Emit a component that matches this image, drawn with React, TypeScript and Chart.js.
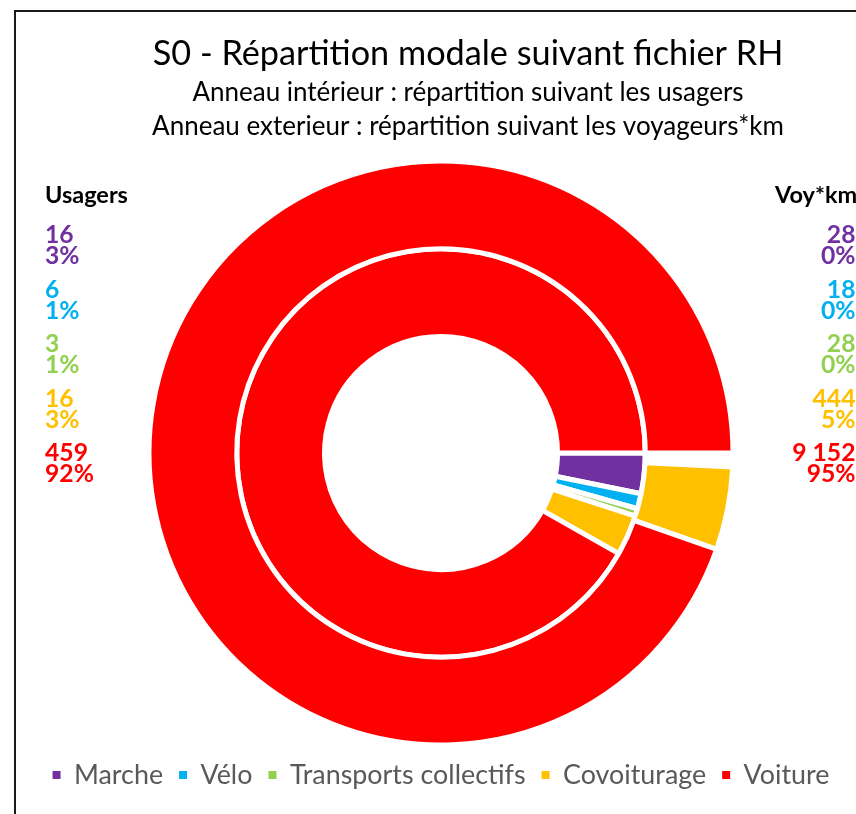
import React, { useEffect, useRef } from "react";
import { Chart, registerables } from "chart.js";

Chart.register(...registerables);

// ---------- data ----------
const categories = ["Marche", "Vélo", "Transports collectifs", "Covoiturage", "Voiture"];
const usagers = [16, 6, 3, 16, 459];
const voyKm = [28, 18, 28, 444, 9152];
const colors = ["#7030A0", "#00B0F0", "#92D050", "#FFC000", "#FF0000"];
const titleText = "S0 - Répartition modale suivant fichier RH";
const subtitleLines = [
  "Anneau intérieur : répartition suivant les usagers",
  "Anneau exterieur : répartition suivant les voyageurs*km",
];
const leftHeader = "Usagers";
const rightHeader = "Voy*km";

// ---------- helpers ----------
const FONT = "Lato, 'Noto Sans', sans-serif";

function measure(text: string, weight: string) {
  const c = document.createElement("canvas").getContext("2d")!;
  c.font = `${weight} 100px ${FONT}`;
  return c.measureText(text).width / 100;
}
function fitSize(text: string, target: number, weight = "normal") {
  return target / measure(text, weight);
}
const fmt = (v: number) => String(v).replace(/\B(?=(\d{3})+(?!\d))/g, " ");
const pct = (v: number, arr: number[]) =>
  Math.round((v / arr.reduce((a, b) => a + b, 0)) * 100) + "%";

export default function App() {
  const ref = useRef<HTMLCanvasElement | null>(null);

  useEffect(() => {
    const titleSize = fitSize(titleText, 631);
    const subSize =
      (fitSize(subtitleLines[0], 548) + fitSize(subtitleLines[1], 636)) / 2;
    const hdrSize = fitSize(leftHeader, 83, "bold");
    const valSize = (fitSize("459", 42, "bold") + fitSize("92%", 50, "bold")) / 2;
    const legendTextTotal = categories.reduce((s, c) => s + measure(c, "normal"), 0);
    const legendSize = 606 / legendTextTotal;

    const legendPad = 16;
    const legendTop = 759 - legendSize / 2;
    const padBottom = 814 - (legendTop + legendSize + legendPad + 10);
    const padTop = 2 * 453 - legendTop;

    const textPlugin = {
      id: "sideText",
      afterDraw(chart: any) {
        const ctx = chart.ctx as CanvasRenderingContext2D;
        ctx.save();
        // frame
        ctx.strokeStyle = "#1a1a1a";
        ctx.lineWidth = 2;
        ctx.beginPath();
        ctx.moveTo(15, 814);
        ctx.lineTo(15, 11);
        ctx.lineTo(856, 11);
        ctx.stroke();

        // titles
        ctx.fillStyle = "#000";
        ctx.textAlign = "center";
        ctx.textBaseline = "alphabetic";
        ctx.font = `normal ${titleSize}px ${FONT}`;
        ctx.fillText(titleText, 468, 65);
        ctx.font = `normal ${subSize}px ${FONT}`;
        ctx.fillText(subtitleLines[0], 468, 101);
        ctx.fillText(subtitleLines[1], 468, 135);

        // column headers
        ctx.font = `bold ${hdrSize}px ${FONT}`;
        ctx.textAlign = "left";
        ctx.fillText(leftHeader, 45, 203);
        ctx.fillText(rightHeader, 775, 203);

        // values
        ctx.font = `bold ${valSize}px ${FONT}`;
        for (let i = 0; i < categories.length; i++) {
          const y1 = 243 + i * 54.5;
          const y2 = y1 + 21;
          ctx.fillStyle = colors[i];
          ctx.textAlign = "left";
          ctx.fillText(fmt(usagers[i]), 45, y1);
          ctx.fillText(pct(usagers[i], usagers), 45, y2);
          ctx.textAlign = "right";
          ctx.fillText(fmt(voyKm[i]), 855.5, y1);
          ctx.fillText(pct(voyKm[i], voyKm), 855.5, y2);
        }
        ctx.restore();
      },
    };

    const chart = new Chart(ref.current!, {
      type: "doughnut",
      data: {
        labels: categories,
        datasets: [
          {
            label: rightHeader,
            data: voyKm,
            backgroundColor: colors,
            borderColor: "#ffffff",
            borderWidth: 5,
            weight: 1,
          },
          {
            label: leftHeader,
            data: usagers,
            backgroundColor: colors,
            borderColor: "#ffffff",
            borderWidth: 5,
            weight: 1,
          },
        ],
      },
      options: {
        responsive: false,
        maintainAspectRatio: false,
        animation: false,
        events: [],
        rotation: 90,
        cutout: "39.9%",
        radius: 292,
        layout: { padding: { left: 26, right: 0, top: padTop, bottom: padBottom } },
        plugins: {
          tooltip: { enabled: false },
          title: { display: false },
          legend: {
            display: true,
            position: "bottom",
            labels: {
              boxWidth: 8,
              boxHeight: 8,
              padding: legendPad,
              color: "#595959",
              font: { family: FONT, size: legendSize },
              generateLabels: () =>
                categories.map((c, i) => ({
                  text: c,
                  fillStyle: colors[i],
                  strokeStyle: colors[i],
                  lineWidth: 0,
                  hidden: false,
                  index: i,
                  fontColor: "#595959",
                })),
            },
          },
        },
      } as any,
      plugins: [textPlugin],
    });
    return () => chart.destroy();
  }, []);

  return (
    <div
      style={{
        position: "absolute",
        left: 0,
        top: 0,
        width: 856,
        height: 814,
        background: "#fff",
        overflow: "hidden",
      }}
    >
      <canvas ref={ref} width={856} height={814} style={{ display: "block" }} />
    </div>
  );
}
